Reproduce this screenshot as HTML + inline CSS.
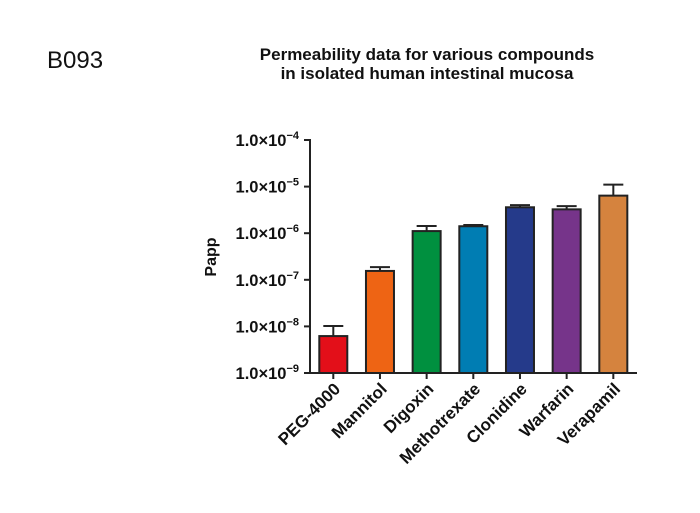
<!DOCTYPE html>
<html><head><meta charset="utf-8"><style>
body{margin:0;background:#fff;}
svg{display:block;font-family:"Liberation Sans","DejaVu Sans",sans-serif;}
</style></head><body>
<svg id="chart" width="700" height="513">
<text x="47" y="68" font-size="24" fill="#111">B093</text>
<text x="427" y="60" font-size="17" font-weight="bold" text-anchor="middle" fill="#111">Permeability data for various compounds</text>
<text x="427" y="79" font-size="17" font-weight="bold" text-anchor="middle" fill="#111">in isolated human intestinal mucosa</text>
<text transform="translate(216,257) rotate(-90)" font-size="16" font-weight="bold" text-anchor="middle" fill="#111">Papp</text>
<g id="plot"></g>
</svg>
<script>
const categories=["PEG-4000","Mannitol","Digoxin","Methotrexate","Clonidine","Warfarin","Verapamil"];
const values=[6.2e-9,1.55e-7,1.11e-6,1.41e-6,3.6e-6,3.25e-6,6.4e-6];
const errors=[1.02e-8,1.87e-7,1.43e-6,1.5e-6,4.0e-6,3.8e-6,1.1e-5];
const colors=["#e30f19","#ee6414","#00903f","#007db3","#253a8a","#76348a","#d5833e"];
const tickExps=[-9,-8,-7,-6,-5,-4];
const NS="http://www.w3.org/2000/svg";
const g=document.getElementById('plot');
const x0=310,x1=637,yTop=140,yBot=373,minE=-9,maxE=-4;
function y(v){return yBot-(Math.log10(v)-minE)/(maxE-minE)*(yBot-yTop);}
const step=46.67;
function xc(i){return 333.3+i*step;}
function mk(t,a){const e=document.createElementNS(NS,t);for(const k in a)e.setAttribute(k,a[k]);g.appendChild(e);return e;}
tickExps.forEach(ex=>{
 const yy=y(Math.pow(10,ex));
 const t=mk('line',{x1:x0-6,x2:x0,y1:yy,y2:yy,stroke:'#222','stroke-width':2});
 
 
 const l=mk('text',{x:x0-11,y:yy+6,'font-size':16.5,'font-weight':'bold','text-anchor':'end',fill:'#111'});
 l.innerHTML='1.0×10<tspan dy="-7" font-size="11">'+(ex<0?'−':'')+Math.abs(ex)+'</tspan>';
 
 
});
categories.forEach((c,i)=>{
 const cx=xc(i);
 const e=y(errors[i]),top=y(values[i]);
 const el=mk('line',{x1:cx,x2:cx,y1:e,y2:top,stroke:'#222','stroke-width':2});
 
 
 const ec=mk('line',{x1:cx-10,x2:cx+10,y1:e,y2:e,stroke:'#222','stroke-width':2});
 
 
 const r=mk('rect',{x:cx-14,y:top,width:28,height:yBot-top,fill:colors[i],stroke:'#222','stroke-width':2});
 
 
 const tk=mk('line',{x1:cx,x2:cx,y1:yBot,y2:yBot+6,stroke:'#222','stroke-width':2});
 
 
 const t=mk('text',{transform:'translate('+(cx+8)+','+(yBot+17)+') rotate(-45)','font-size':17,'font-weight':'bold','text-anchor':'end',fill:'#111'});
 t.textContent=c;
 
 
});
const ya=mk('line',{x1:x0,x2:x0,y1:yTop-1,y2:yBot+1,stroke:'#222','stroke-width':2});


const xa=mk('line',{x1:x0-1,x2:x1,y1:yBot,y2:yBot,stroke:'#222','stroke-width':2});


</script>
</body></html>
